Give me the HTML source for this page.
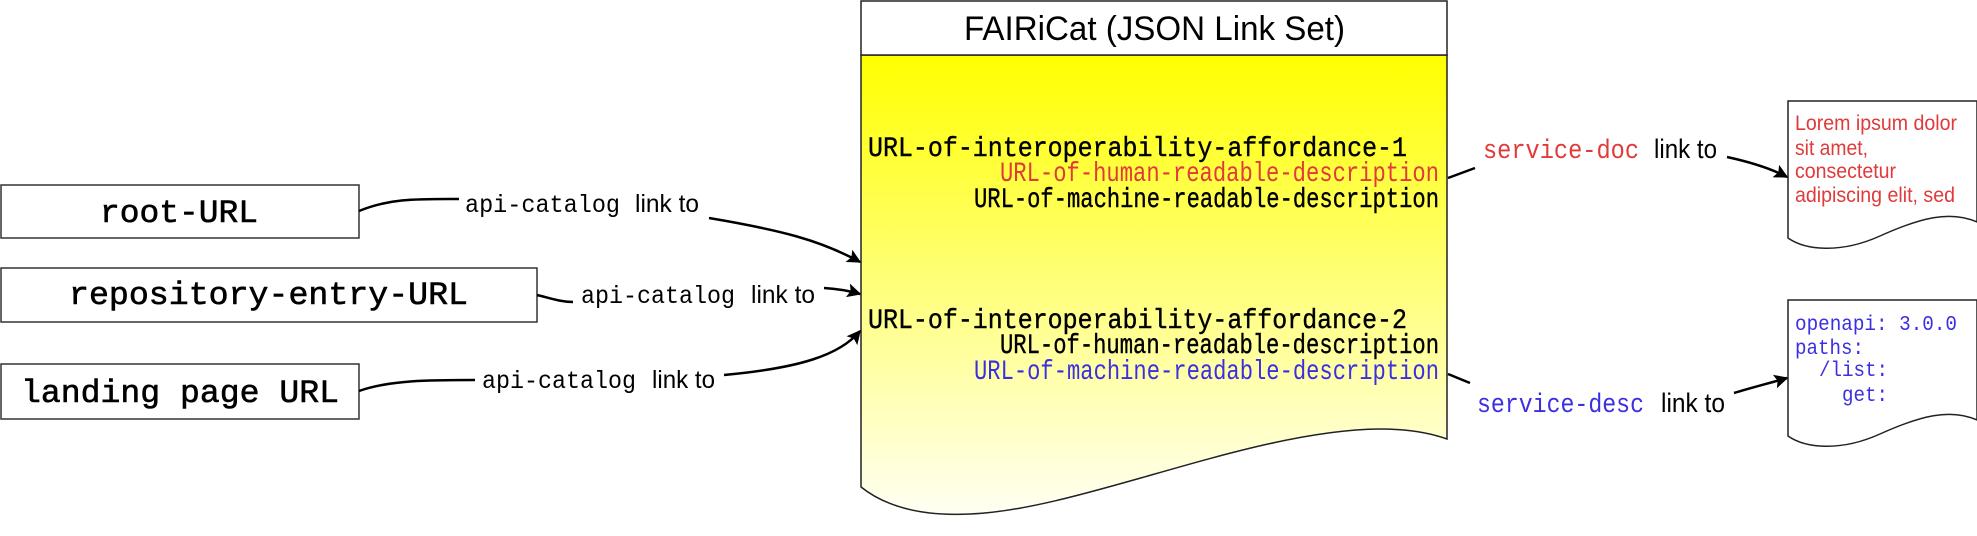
<!DOCTYPE html>
<html><head><meta charset="utf-8"><style>html,body{margin:0;padding:0;background:#fff}svg{display:block}</style></head>
<body>
<svg width="1977" height="536" viewBox="0 0 1977 536" xmlns="http://www.w3.org/2000/svg">
<defs>
<linearGradient id="g" x1="0" y1="55" x2="0" y2="515" gradientUnits="userSpaceOnUse">
<stop offset="0" stop-color="#ffff00"/><stop offset="1" stop-color="#fffff4"/></linearGradient>
<marker id="a" viewBox="0 0 10 10" refX="9" refY="5" markerWidth="18" markerHeight="14" orient="auto" markerUnits="userSpaceOnUse"><path d="M0,0 L10,5 L0,10 L2,5 Z" fill="#000"/></marker>
</defs>
<g fill="#fff" stroke="#333" stroke-width="1.5">
<rect x="1" y="185" width="358" height="53"/>
<rect x="1" y="268" width="536" height="54"/>
<rect x="1" y="364" width="358" height="55"/>
</g>
<g font-family="Liberation Mono, monospace" font-size="32" fill="#000" stroke="#000" stroke-width="0.6">
<text x="100" y="222" textLength="158" lengthAdjust="spacingAndGlyphs">root-URL</text>
<text x="69" y="304" textLength="399" lengthAdjust="spacingAndGlyphs">repository-entry-URL</text>
<text x="21" y="402" textLength="318" lengthAdjust="spacingAndGlyphs">landing page URL</text>
</g>
<path d="M861,55 H1447 V439 C1430,433 1410,429 1380,429 C1250,430 1080,510 970,514 C930,516 890,510 861,487 Z" fill="url(#g)" stroke="#222" stroke-width="1.5"/>
<rect x="861" y="1" width="586" height="54" fill="#fff" stroke="#222" stroke-width="1.5"/>
<text x="964" y="40" font-family="Liberation Sans, sans-serif" font-size="34" textLength="381" lengthAdjust="spacingAndGlyphs">FAIRiCat (JSON Link Set)</text>
<g font-family="Liberation Mono, monospace" font-size="28" stroke-width="0.4">
<text x="868" y="156" textLength="539" lengthAdjust="spacingAndGlyphs" fill="#000" stroke="#000">URL-of-interoperability-affordance-1</text>
<text x="1000" y="181" textLength="439" lengthAdjust="spacingAndGlyphs" fill="#e03a3a">URL-of-human-readable-description</text>
<text x="974" y="207" textLength="465" lengthAdjust="spacingAndGlyphs" fill="#000" stroke="#000">URL-of-machine-readable-description</text>
<text x="868" y="328" textLength="539" lengthAdjust="spacingAndGlyphs" fill="#000" stroke="#000">URL-of-interoperability-affordance-2</text>
<text x="1000" y="353" textLength="439" lengthAdjust="spacingAndGlyphs" fill="#000" stroke="#000">URL-of-human-readable-description</text>
<text x="974" y="379" textLength="465" lengthAdjust="spacingAndGlyphs" fill="#3b2fe0">URL-of-machine-readable-description</text>
</g>
<g fill="#fff" stroke="#222" stroke-width="1.5">
<path d="M1788,101 H1977 V222 C1950,210 1920,218 1880,236 C1840,254 1805,250 1788,238 Z"/>
<path d="M1788,300 H1977 V420 C1950,408 1920,416 1880,434 C1840,452 1805,448 1788,436 Z"/>
</g>
<g font-family="Liberation Sans, sans-serif" font-size="21" fill="#e03a3a">
<text x="1795" y="130" textLength="162" lengthAdjust="spacingAndGlyphs">Lorem ipsum dolor</text>
<text x="1795" y="155" textLength="73" lengthAdjust="spacingAndGlyphs">sit amet,</text>
<text x="1795" y="178" textLength="101" lengthAdjust="spacingAndGlyphs">consectetur</text>
<text x="1795" y="202" textLength="160" lengthAdjust="spacingAndGlyphs">adipiscing elit, sed</text>
</g>
<g font-family="Liberation Mono, monospace" font-size="21" fill="#3b2fe0">
<text x="1795" y="330" textLength="162" lengthAdjust="spacingAndGlyphs">openapi: 3.0.0</text>
<text x="1795" y="354" textLength="69" lengthAdjust="spacingAndGlyphs">paths:</text>
<text x="1819" y="376" textLength="69" lengthAdjust="spacingAndGlyphs">/list:</text>
<text x="1842" y="401" textLength="46" lengthAdjust="spacingAndGlyphs">get:</text>
</g>
<g fill="none" stroke="#000" stroke-width="2.5">
<path d="M359,211 C390,198 420,199 459,199"/>
<path d="M709,218 C780,230 820,240 860,262" marker-end="url(#a)"/>
<path d="M537,295 C550,298 560,302 573,302"/>
<path d="M824,288 C840,289 850,291 860,294" marker-end="url(#a)"/>
<path d="M359,391 C390,380 430,380 475,380"/>
<path d="M724,375 C800,368 840,355 860,331" marker-end="url(#a)"/>
<path d="M1448,178 L1475,168"/>
<path d="M1727,157 C1750,162 1770,168 1787,177" marker-end="url(#a)"/>
<path d="M1448,374 L1470,383"/>
<path d="M1734,393 C1750,388 1770,383 1787,378" marker-end="url(#a)"/>
</g>
<g>
<text x="465" y="212" font-family="Liberation Mono, monospace" font-size="25" textLength="155" lengthAdjust="spacingAndGlyphs">api-catalog</text>
<text x="635" y="212" font-family="Liberation Sans, sans-serif" font-size="25" textLength="64" lengthAdjust="spacingAndGlyphs">link to</text>
<text x="581" y="303" font-family="Liberation Mono, monospace" font-size="25" textLength="154" lengthAdjust="spacingAndGlyphs">api-catalog</text>
<text x="751" y="303" font-family="Liberation Sans, sans-serif" font-size="25" textLength="64" lengthAdjust="spacingAndGlyphs">link to</text>
<text x="482" y="388" font-family="Liberation Mono, monospace" font-size="25" textLength="154" lengthAdjust="spacingAndGlyphs">api-catalog</text>
<text x="652" y="388" font-family="Liberation Sans, sans-serif" font-size="25" textLength="63" lengthAdjust="spacingAndGlyphs">link to</text>
<text x="1483" y="158" font-family="Liberation Mono, monospace" font-size="27" textLength="156" lengthAdjust="spacingAndGlyphs" fill="#e03a3a">service-doc</text>
<text x="1654" y="158" font-family="Liberation Sans, sans-serif" font-size="27" textLength="63" lengthAdjust="spacingAndGlyphs">link to</text>
<text x="1477" y="412" font-family="Liberation Mono, monospace" font-size="27" textLength="167" lengthAdjust="spacingAndGlyphs" fill="#3b2fe0">service-desc</text>
<text x="1661" y="412" font-family="Liberation Sans, sans-serif" font-size="27" textLength="64" lengthAdjust="spacingAndGlyphs">link to</text>
</g>
</svg>
</body></html>
